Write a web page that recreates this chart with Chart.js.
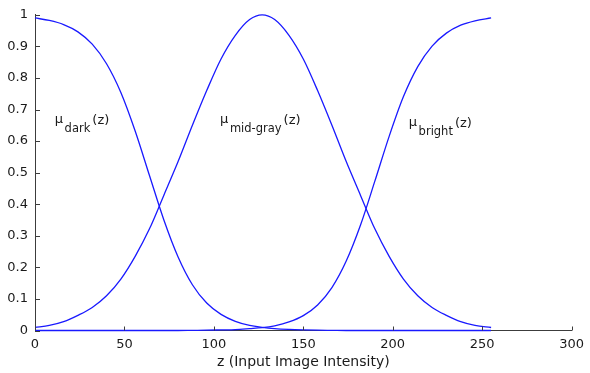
<!DOCTYPE html>
<html>
<head>
<meta charset="utf-8">
<script src="https://cdn.jsdelivr.net/npm/chart.js@4.4.0/dist/chart.umd.min.js"></script>
<style>
  html, body { margin: 0; padding: 0; background: #fff; }
</style>
</head>
<body>
<canvas id="membershipChart" width="590" height="373"></canvas>
<script>
// z samples (input intensity) and the three membership curves
const intensity = [0, 8, 16, 24, 32, 40, 48, 56, 64, 72, 80, 88, 96, 104, 112, 120, 127,
                   134, 142, 150, 158, 166, 174, 182, 190, 198, 206, 214, 222, 230, 238, 246, 255];
const muDark = [0.990, 0.982, 0.969, 0.946, 0.907, 0.845, 0.754, 0.632, 0.491, 0.351, 0.233,
                0.145, 0.087, 0.051, 0.029, 0.016, 0.010, 0.006, 0.0035, 0.002, 0.001, 0.0005,
                0, 0, 0, 0, 0, 0, 0, 0, 0, 0, 0];
const muMidGray = [0.010, 0.016, 0.028, 0.048, 0.073, 0.110, 0.163, 0.235, 0.322, 0.428, 0.535,
                   0.650, 0.760, 0.860, 0.935, 0.985, 1.000, 0.985, 0.935, 0.860, 0.760, 0.650,
                   0.535, 0.428, 0.322, 0.235, 0.163, 0.110, 0.073, 0.048, 0.028, 0.016, 0.0095];
const muBright = [0, 0, 0, 0, 0, 0, 0, 0, 0, 0, 0, 0.0005, 0.001, 0.002, 0.003, 0.006, 0.009,
                  0.015, 0.027, 0.047, 0.081, 0.136, 0.220, 0.334, 0.473, 0.615, 0.741, 0.836,
                  0.901, 0.942, 0.967, 0.981, 0.990];
const xTickLabels = ['0', '50', '100', '150', '200', '250', '300'];
const yTickLabels = ['0', '0.1', '0.2', '0.3', '0.4', '0.5', '0.6', '0.7', '0.8', '0.9', '1'];

const corLinha = 'rgb(25, 25, 255)';
const corEixo = '#3c3c3c';
const corTexto = '#1a1a1a';
const fonte = '"DejaVu Sans", sans-serif';

function pontos(ys) {
  return intensity.map((z, i) => ({ x: z, y: ys[i] }));
}

function serie(label, ys) {
  return {
    label: label,
    data: pontos(ys),
    borderColor: corLinha,
    borderWidth: 1.3,
    pointRadius: 0,
    fill: false,
    cubicInterpolationMode: 'monotone',
    clip: false
  };
}

// inward tick marks, like the original figure
const ticksParaDentro = {
  id: 'ticksParaDentro',
  afterDraw(chart) {
    const { ctx, scales: { x, y } } = chart;
    ctx.save();
    ctx.strokeStyle = corEixo;
    ctx.lineWidth = 1;
    ctx.beginPath();
    x.ticks.forEach(t => {
      const px = Math.round(x.getPixelForValue(t.value)) + 0.5;
      ctx.moveTo(px, y.bottom);
      ctx.lineTo(px, y.bottom - 4);
    });
    y.ticks.forEach(t => {
      const py = Math.round(y.getPixelForValue(t.value)) + 0.5;
      ctx.moveTo(x.left, py);
      ctx.lineTo(x.left + 5, py);
    });
    ctx.stroke();
    ctx.restore();
  }
};

// mu labels with subscripts
const rotulos = {
  id: 'rotulos',
  afterDraw(chart) {
    const { ctx, scales: { x, y } } = chart;
    const itens = [
      { sub: 'dark', z: 11.1, v: 0.658 },
      { sub: 'mid-gray', z: 103.5, v: 0.658 },
      { sub: 'bright', z: 209, v: 0.649 }
    ];
    ctx.save();
    ctx.fillStyle = corTexto;
    ctx.textBaseline = 'alphabetic';
    ctx.textAlign = 'left';
    itens.forEach(it => {
      let px = x.getPixelForValue(it.z);
      const base = y.getPixelForValue(it.v);
      ctx.font = '13px ' + fonte;
      ctx.fillText('\u03bc', px, base);
      px += ctx.measureText('\u03bc').width + 1.5;
      ctx.font = '11.5px ' + fonte;
      ctx.fillText(it.sub, px, base + 9);
      px += ctx.measureText(it.sub).width + 2;
      ctx.font = '13px ' + fonte;
      ctx.fillText('(z)', px, base + 1.5);
    });
    ctx.restore();
  }
};

new Chart(document.getElementById('membershipChart'), {
  type: 'line',
  data: {
    datasets: [
      serie('dark', muDark),
      serie('mid-gray', muMidGray),
      serie('bright', muBright)
    ]
  },
  options: {
    responsive: false,
    animation: false,
    devicePixelRatio: 1,
    layout: { padding: { top: 11, right: 14, left: 0, bottom: 0 } },
    plugins: {
      legend: { display: false },
      tooltip: { enabled: false }
    },
    scales: {
      x: {
        type: 'linear',
        min: 0,
        max: 300,
        afterFit: s => { s.height = 42.5; },
        ticks: {
          stepSize: 50,
          padding: 6,
          color: corTexto,
          font: { family: fonte, size: 13 },
          maxRotation: 0,
          callback: (v, i) => xTickLabels[i]
        },
        grid: { display: false, drawTicks: false, tickLength: 0 },
        border: { display: true, color: corEixo, width: 1 },
        title: {
          display: true,
          text: 'z (Input Image Intensity)',
          color: corTexto,
          font: { family: fonte, size: 14 },
          padding: { top: 2, bottom: 2 }
        }
      },
      y: {
        type: 'linear',
        min: 0,
        max: 1,
        afterFit: s => { s.width = 35; },
        ticks: {
          stepSize: 0.1,
          padding: 7,
          color: corTexto,
          font: { family: fonte, size: 13 },
          callback: (v, i) => yTickLabels[i]
        },
        grid: { display: false, drawTicks: false, tickLength: 0 },
        border: { display: true, color: corEixo, width: 1 }
      }
    }
  },
  plugins: [ticksParaDentro, rotulos]
});
</script>
</body>
</html>
